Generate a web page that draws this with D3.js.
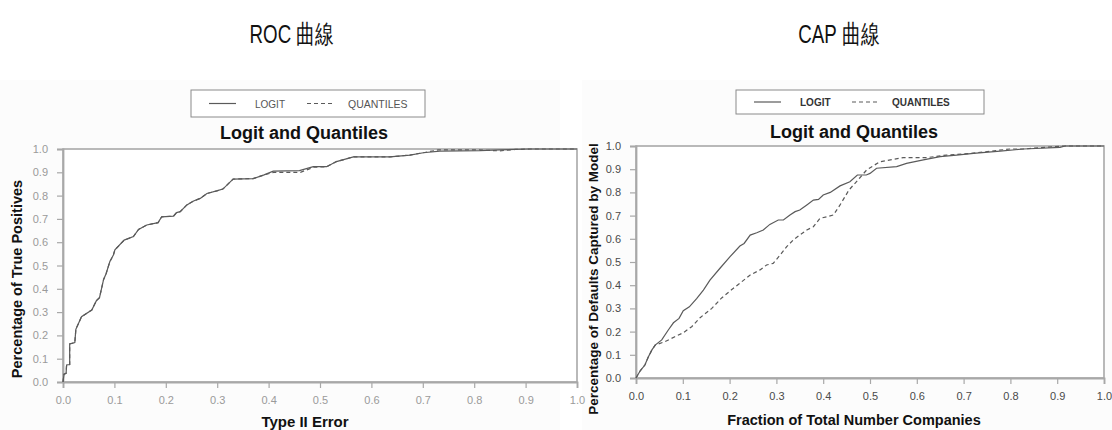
<!DOCTYPE html>
<html>
<head>
<meta charset="utf-8">
<script src="https://cdn.jsdelivr.net/npm/d3@7"></script>
<style>
  html, body { margin: 0; padding: 0; background: #ffffff; }
  svg { display: block; }
  text { font-family: "Liberation Sans", Arial, sans-serif; }
</style>
</head>
<body>
<svg id="chart" width="1112" height="430"></svg>
<script>
// ---- data -------------------------------------------------------------
const tickValues = [0, 0.1, 0.2, 0.3, 0.4, 0.5, 0.6, 0.7, 0.8, 0.9, 1.0];
const seriesNames = ["LOGIT", "QUANTILES"];
const panelTitles = ["ROC 曲線", "CAP 曲線"];

// ROC: Type II error vs. share of true positives
const rocLogitX = [0, 0.002, 0.006, 0.007, 0.013, 0.013, 0.023, 0.025, 0.036, 0.056, 0.065, 0.071, 0.079, 0.084, 0.091, 0.098, 0.101, 0.119, 0.137, 0.147, 0.163, 0.185, 0.192, 0.215, 0.221, 0.228, 0.241, 0.254, 0.267, 0.28, 0.299, 0.311, 0.331, 0.37, 0.39, 0.409, 0.46, 0.487, 0.513, 0.532, 0.565, 0.636, 0.675, 0.701, 0.733, 0.811, 0.85, 0.905, 1.0];
const rocLogitY = [0, 0.034, 0.037, 0.073, 0.075, 0.163, 0.169, 0.226, 0.28, 0.309, 0.349, 0.362, 0.44, 0.466, 0.516, 0.545, 0.567, 0.609, 0.624, 0.655, 0.674, 0.684, 0.709, 0.712, 0.727, 0.731, 0.76, 0.777, 0.788, 0.809, 0.82, 0.828, 0.871, 0.873, 0.888, 0.905, 0.907, 0.924, 0.924, 0.946, 0.966, 0.966, 0.974, 0.984, 0.991, 0.993, 0.996, 1.0, 1.0];
const rocQuantX = [0, 0.002, 0.006, 0.007, 0.013, 0.013, 0.023, 0.025, 0.036, 0.056, 0.065, 0.071, 0.079, 0.084, 0.091, 0.098, 0.101, 0.119, 0.137, 0.147, 0.163, 0.185, 0.192, 0.215, 0.221, 0.228, 0.241, 0.254, 0.267, 0.28, 0.299, 0.311, 0.331, 0.37, 0.39, 0.41, 0.462, 0.488, 0.513, 0.532, 0.565, 0.636, 0.675, 0.701, 0.73, 0.76, 0.81, 0.85, 0.88, 0.91, 1.0];
const rocQuantY = [0, 0.034, 0.037, 0.073, 0.075, 0.163, 0.169, 0.226, 0.28, 0.309, 0.349, 0.362, 0.44, 0.466, 0.516, 0.545, 0.567, 0.609, 0.624, 0.655, 0.674, 0.684, 0.709, 0.712, 0.727, 0.731, 0.76, 0.777, 0.788, 0.809, 0.82, 0.828, 0.871, 0.873, 0.888, 0.9, 0.9, 0.922, 0.924, 0.946, 0.966, 0.966, 0.974, 0.984, 0.996, 0.996, 0.996, 0.992, 0.998, 1.0, 1.0];

// CAP: fraction of companies vs. share of defaults captured
const capLogitX = [0, 0.009, 0.019, 0.026, 0.034, 0.041, 0.055, 0.069, 0.08, 0.092, 0.101, 0.114, 0.13, 0.144, 0.158, 0.179, 0.201, 0.222, 0.231, 0.244, 0.258, 0.272, 0.286, 0.304, 0.315, 0.329, 0.34, 0.35, 0.365, 0.379, 0.39, 0.4, 0.415, 0.436, 0.457, 0.473, 0.492, 0.5, 0.514, 0.557, 0.578, 0.614, 0.65, 0.685, 0.721, 0.778, 0.828, 0.906, 0.917, 1.0];
const capLogitY = [0, 0.031, 0.056, 0.089, 0.121, 0.142, 0.164, 0.207, 0.238, 0.257, 0.29, 0.307, 0.343, 0.379, 0.422, 0.472, 0.523, 0.569, 0.58, 0.616, 0.626, 0.638, 0.662, 0.681, 0.681, 0.703, 0.717, 0.724, 0.746, 0.767, 0.77, 0.789, 0.8, 0.828, 0.846, 0.875, 0.875, 0.882, 0.904, 0.911, 0.925, 0.94, 0.954, 0.961, 0.968, 0.978, 0.987, 0.994, 1.0, 1.0];
const capQuantX = [0, 0.009, 0.019, 0.026, 0.034, 0.041, 0.062, 0.083, 0.101, 0.119, 0.137, 0.162, 0.183, 0.204, 0.226, 0.244, 0.265, 0.279, 0.293, 0.308, 0.322, 0.336, 0.35, 0.365, 0.379, 0.393, 0.408, 0.422, 0.436, 0.455, 0.477, 0.493, 0.521, 0.571, 0.621, 0.664, 0.714, 0.799, 0.828, 0.913, 1.0];
const capQuantY = [0, 0.031, 0.056, 0.089, 0.121, 0.142, 0.157, 0.178, 0.195, 0.221, 0.26, 0.3, 0.345, 0.38, 0.415, 0.444, 0.466, 0.487, 0.494, 0.53, 0.566, 0.595, 0.616, 0.638, 0.652, 0.688, 0.695, 0.703, 0.746, 0.81, 0.86, 0.897, 0.932, 0.95, 0.95, 0.961, 0.968, 0.987, 0.987, 1.0, 1.0];

// ---- drawing ----------------------------------------------------------
const svg = d3.select("#chart");
const curveColor = "#5a5a5a";
const frameColor = "#a8a8a8";

const zip = (xs, ys) => xs.map((x, i) => [x, ys[i]]);

const panels = [
  {
    title: panelTitles[0], titleX: 292,
    x0: 63, x1: 577, y0: 382, y1: 149,
    subtitleX: 304, subtitleY: 139,
    legend: { x: 191, y: 90, w: 234, h: 27, thin: true },
    tickColor: "#9a9a9a",
    yLabel: "Percentage of True Positives", yLabelX: 17, yLabelSize: 14.5,
    xLabel: "Type II Error", xLabelX: 305, xLabelY: 427, xLabelSize: 15,
    logit: zip(rocLogitX, rocLogitY), quant: zip(rocQuantX, rocQuantY),
    panelBg: { x: 0, y: 80, w: 560, h: 350 }
  },
  {
    title: panelTitles[1], titleX: 839,
    x0: 636, x1: 1104, y0: 378, y1: 146,
    subtitleX: 854, subtitleY: 138,
    legend: { x: 736, y: 90, w: 248, h: 24, thin: false },
    tickColor: "#4a4a4a",
    yLabel: "Percentage of Defaults Captured by Model", yLabelX: 593, yLabelSize: 13.5,
    xLabel: "Fraction of Total Number Companies", xLabelX: 854, xLabelY: 425, xLabelSize: 14.5,
    logit: zip(capLogitX, capLogitY), quant: zip(capQuantX, capQuantY),
    panelBg: { x: 582, y: 80, w: 530, h: 350 }
  }
];

// faint backdrop of each chart, drawn first so nothing is covered by it
panels.forEach(p => {
  svg.append("rect")
    .attr("x", p.panelBg.x).attr("y", p.panelBg.y)
    .attr("width", p.panelBg.w).attr("height", p.panelBg.h)
    .attr("fill", "#fcfcfc");
});

panels.forEach((p, idx) => {
  const g = svg.append("g");

  // Chinese heading above each chart (narrow face)
  g.append("text")
    .attr("transform", `translate(${p.titleX},43) scale(0.72,1)`)
    .attr("text-anchor", "middle")
    .attr("font-family", "'Noto Sans CJK TC', 'Noto Sans CJK SC', sans-serif")
    .attr("font-size", 26)
    .attr("fill", "#111")
    .text(p.title);

  const x = d3.scaleLinear().domain([0, 1]).range([p.x0, p.x1]);
  const y = d3.scaleLinear().domain([0, 1]).range([p.y0, p.y1]);

  // plot area
  g.append("rect")
    .attr("x", p.x0).attr("y", p.y1)
    .attr("width", p.x1 - p.x0).attr("height", p.y0 - p.y1)
    .attr("fill", "#ffffff")
    .attr("stroke", frameColor).attr("stroke-width", 1.6);

  // axes
  const fmt = d3.format(".1f");
  const xAxis = g.append("g")
    .attr("transform", `translate(0,${p.y0})`)
    .call(d3.axisBottom(x).tickValues(tickValues).tickFormat(fmt).tickSize(6).tickPadding(8));
  const yAxis = g.append("g")
    .attr("transform", `translate(${p.x0},0)`)
    .call(d3.axisLeft(y).tickValues(tickValues).tickFormat(fmt).tickSize(6).tickPadding(9));
  [xAxis, yAxis].forEach(a => {
    a.select(".domain").attr("stroke", frameColor).attr("stroke-width", 1.8);
    a.selectAll(".tick line").attr("stroke", frameColor).attr("stroke-width", 1.2);
    a.selectAll(".tick text")
      .attr("fill", p.tickColor)
      .attr("font-size", 11)
      .attr("font-family", "'Liberation Sans', Arial, sans-serif");
  });

  // legend box
  const L = p.legend;
  const lg = g.append("g");
  lg.append("rect")
    .attr("x", L.x).attr("y", L.y).attr("width", L.w).attr("height", L.h)
    .attr("fill", "#ffffff").attr("stroke", "#8a8a8a").attr("stroke-width", 1);
  const ly = L.y + L.h / 2;
  lg.append("line")
    .attr("x1", L.x + 18).attr("x2", L.x + 45).attr("y1", ly).attr("y2", ly)
    .attr("stroke", curveColor).attr("stroke-width", 1.2);
  lg.append("text")
    .attr("x", L.x + 64).attr("y", ly + 4)
    .attr("font-size", 10).attr("font-weight", L.thin ? "normal" : "bold")
    .attr("fill", L.thin ? "#555" : "#333")
    .text(seriesNames[0]);
  lg.append("line")
    .attr("x1", L.x + 116).attr("x2", L.x + 143).attr("y1", ly).attr("y2", ly)
    .attr("stroke", curveColor).attr("stroke-width", 1.2)
    .attr("stroke-dasharray", "4,3");
  lg.append("text")
    .attr("x", L.x + (L.thin ? 157 : 156)).attr("y", ly + 4)
    .attr("font-size", L.thin ? 10.5 : 10).attr("font-weight", L.thin ? "normal" : "bold")
    .attr("font-family", L.thin ? "'Liberation Serif', serif" : "'Liberation Sans', Arial, sans-serif")
    .attr("fill", L.thin ? "#555" : "#333")
    .text(seriesNames[1]);

  // chart subtitle
  g.append("text")
    .attr("x", p.subtitleX).attr("y", p.subtitleY)
    .attr("text-anchor", "middle")
    .attr("font-size", 18).attr("font-weight", "bold").attr("fill", "#111")
    .text("Logit and Quantiles");

  // curves
  const line = d3.line().x(d => x(d[0])).y(d => y(d[1]));
  g.append("path").datum(p.quant)
    .attr("d", line).attr("fill", "none")
    .attr("stroke", curveColor).attr("stroke-width", 1.2)
    .attr("stroke-dasharray", "4,3");
  g.append("path").datum(p.logit)
    .attr("d", line).attr("fill", "none")
    .attr("stroke", curveColor).attr("stroke-width", 1.2);

  // axis titles
  g.append("text")
    .attr("transform", `translate(${p.yLabelX},279) rotate(-90)`)
    .attr("text-anchor", "middle").attr("dominant-baseline", "central")
    .attr("font-size", p.yLabelSize).attr("font-weight", "bold").attr("fill", "#111")
    .text(p.yLabel);
  g.append("text")
    .attr("x", p.xLabelX).attr("y", p.xLabelY)
    .attr("text-anchor", "middle")
    .attr("font-size", p.xLabelSize).attr("font-weight", "bold").attr("fill", "#111")
    .text(p.xLabel);
});
</script>
</body>
</html>
